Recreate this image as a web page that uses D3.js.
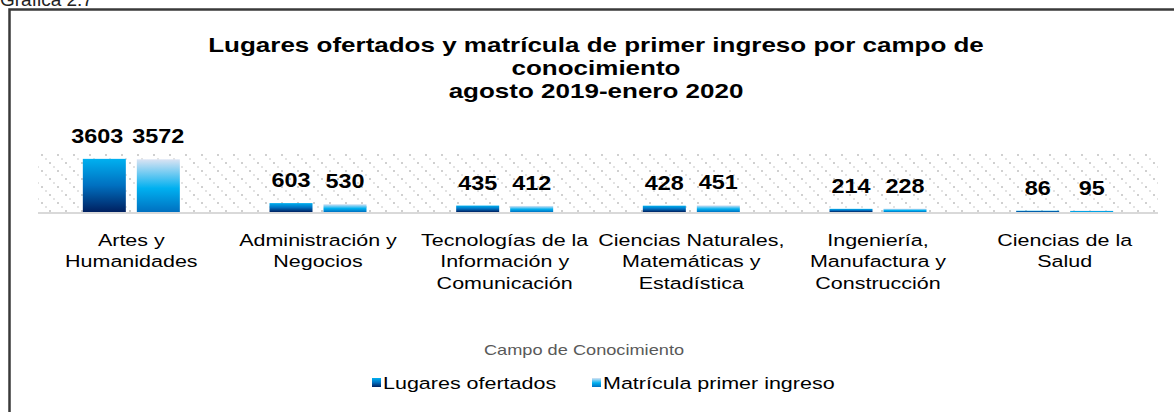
<!DOCTYPE html>
<html>
<head>
<meta charset="utf-8">
<script src="https://cdn.jsdelivr.net/npm/d3@7"></script>
<style>
  body { margin: 0; background: #fff; }
  svg { display: block; font-family: "Liberation Sans", Arial, sans-serif; }
</style>
</head>
<body>
<div id="chart"></div>
<script>
var categorias = [
  ["Artes y", "Humanidades"],
  ["Administración y", "Negocios"],
  ["Tecnologías de la", "Información y", "Comunicación"],
  ["Ciencias Naturales,", "Matemáticas y", "Estadística"],
  ["Ingeniería,", "Manufactura y", "Construcción"],
  ["Ciencias de la", "Salud"]
];
var series = ["Lugares ofertados", "Matrícula primer ingreso"];
var lugares = [3603, 603, 435, 428, 214, 86];
var matricula = [3572, 530, 412, 451, 228, 95];
var titulo = ["Lugares ofertados y matrícula de primer ingreso por campo de", "conocimiento", "agosto 2019-enero 2020"];

var W = 1174, H = 412;
var sx = 1.3; // the original picture is stretched sideways

var svg = d3.select("#chart").append("svg")
  .attr("width", W)
  .attr("height", H);

var defs = svg.append("defs");

var g1 = defs.append("linearGradient").attr("id", "grad0")
  .attr("x1", 0).attr("y1", 0).attr("x2", 0).attr("y2", 1);
g1.append("stop").attr("offset", "0%").attr("stop-color", "#00b0f0");
g1.append("stop").attr("offset", "50%").attr("stop-color", "#0070c0");
g1.append("stop").attr("offset", "100%").attr("stop-color", "#002060");

var g2 = defs.append("linearGradient").attr("id", "grad1")
  .attr("x1", 0).attr("y1", 0).attr("x2", 0).attr("y2", 1);
g2.append("stop").attr("offset", "0%").attr("stop-color", "#dae3f3");
g2.append("stop").attr("offset", "55%").attr("stop-color", "#00b0f0");
g2.append("stop").attr("offset", "100%").attr("stop-color", "#0070c0");

var pat = defs.append("pattern").attr("id", "dots")
  .attr("patternUnits", "userSpaceOnUse")
  .attr("width", 16).attr("height", 16);
pat.append("rect").attr("width", 16).attr("height", 16).attr("fill", "#fff");
[[1, 2], [9, 10], [5, 6], [13, 14]].forEach(function (p, i) {
  pat.append("rect").attr("x", p[0]).attr("y", p[1])
    .attr("width", 2).attr("height", 2)
    .attr("fill", i < 2 ? "#d0d0d0" : "#e3e3e3");
});

// stretched text helper
function stxt(parent, x, y, s) {
  return parent.append("text")
    .attr("transform", "translate(" + x + "," + y + ") scale(" + (s || sx) + ",1)")
    .attr("text-anchor", "middle");
}

// frame
svg.append("rect")
  .attr("x", 9.5).attr("y", 9.5)
  .attr("width", 1300).attr("height", 600)
  .attr("fill", "none")
  .attr("stroke", "#3a3a3a")
  .attr("stroke-width", 2.5);

svg.append("text")
  .attr("x", 0).attr("y", 6)
  .attr("font-size", 19)
  .attr("fill", "#222")
  .text("Gráfica 2.7");

// title
titulo.forEach(function (t, i) {
  stxt(svg, 596, 52 + i * 23)
    .attr("font-size", 20)
    .attr("font-weight", "bold")
    .attr("fill", "#000")
    .text(t);
});

var plotL = 38, plotR = 1158, plotT = 153, plotB = 212;

var x0 = d3.scaleBand()
  .domain(d3.range(categorias.length))
  .range([plotL, plotR]);

var bw = x0.bandwidth();
var x1 = d3.scaleBand()
  .domain([0, 1])
  .range([bw / 2 - 48.5, bw / 2 + 48.5])
  .paddingInner(0.2037);

var y = d3.scaleLinear()
  .domain([0, 4000])
  .range([plotB, plotT]);

svg.append("rect")
  .attr("x", plotL).attr("y", plotT)
  .attr("width", plotR - plotL).attr("height", plotB - plotT)
  .attr("fill", "url(#dots)");

var rows = categorias.map(function (c, i) {
  return { i: i, vals: [lugares[i], matricula[i]] };
});

var grp = svg.selectAll("g.cat")
  .data(rows)
  .enter().append("g")
  .attr("class", "cat")
  .attr("transform", function (d) { return "translate(" + x0(d.i) + ",0)"; });

var cells = grp.selectAll("g.bar")
  .data(function (d) { return d.vals.map(function (v, k) { return { k: k, v: v }; }); })
  .enter().append("g").attr("class", "bar");

cells.append("rect")
  .attr("x", function (d) { return x1(d.k); })
  .attr("width", x1.bandwidth())
  .attr("y", function (d) { return y(d.v); })
  .attr("height", function (d) { return plotB - y(d.v); })
  .attr("fill", function (d) { return "url(#grad" + d.k + ")"; });

cells.each(function (d) {
  // wide labels of the first bar get pushed left, as in the original
  var dx = (d.k === 0 && d.v >= 1000) ? -7 : 0;
  stxt(d3.select(this), x1(d.k) + x1.bandwidth() / 2 + dx, y(d.v) - 16, 1.17)
    .attr("font-size", 20)
    .attr("font-weight", "bold")
    .attr("fill", "#000")
    .text(d.v);
});

// baseline
svg.append("line")
  .attr("x1", plotL).attr("x2", plotR)
  .attr("y1", plotB + 1).attr("y2", plotB + 1)
  .attr("stroke", "#d9d9d9")
  .attr("stroke-width", 2);

// category labels
grp.each(function (d) {
  var t = stxt(d3.select(this), bw / 2, 246, 1.25)
    .attr("font-size", 17.2)
    .attr("fill", "#000");
  categorias[d.i].forEach(function (line, j) {
    t.append("tspan").attr("x", 0).attr("y", j * 21.5).text(line);
  });
});

// axis title
stxt(svg, 584, 355)
  .attr("font-size", 14)
  .attr("fill", "#595959")
  .text("Campo de Conocimiento");

// legend
var legX = [372, 592];
series.forEach(function (s, k) {
  svg.append("rect")
    .attr("x", legX[k]).attr("y", 378)
    .attr("width", 9).attr("height", 9)
    .attr("fill", "url(#grad" + k + ")");
  svg.append("text")
    .attr("transform", "translate(" + (legX[k] + 11) + ",389) scale(1.25,1)")
    .attr("font-size", 17.2)
    .attr("fill", "#000")
    .text(s);
});
</script>
</body>
</html>
